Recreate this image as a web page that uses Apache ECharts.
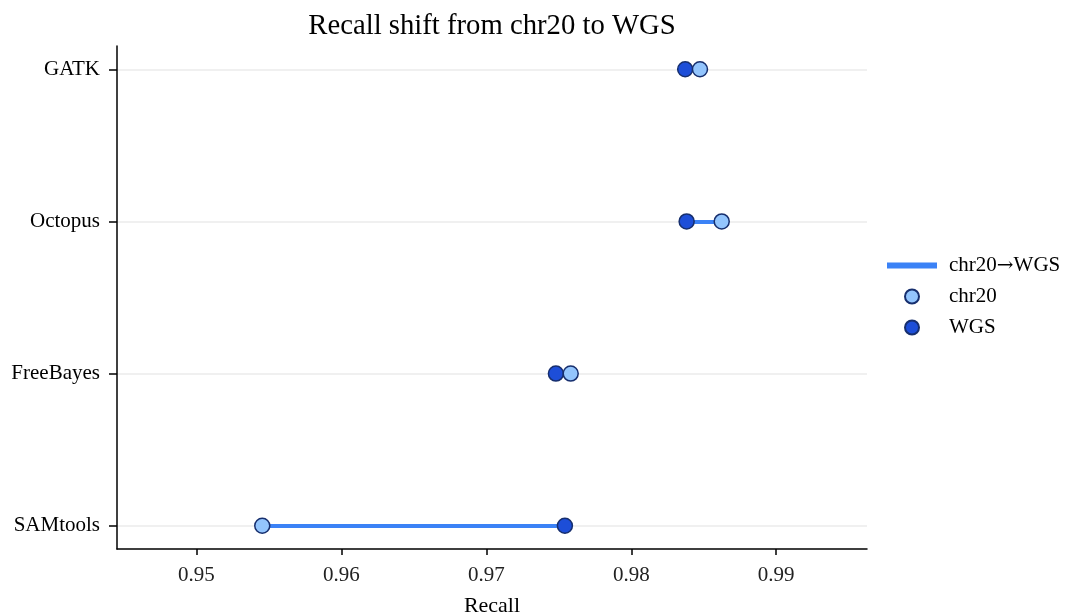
<!DOCTYPE html>
<html>
<head>
<meta charset="utf-8">
<script src="https://cdn.jsdelivr.net/npm/echarts@6/dist/echarts.min.js"></script>
<style>
  html, body { margin: 0; padding: 0; background: #fff; }
  #chart { width: 1068px; height: 613px; }
</style>
</head>
<body>
<div id="chart"></div>
<script>
// data
const callers = ['GATK', 'Octopus', 'FreeBayes', 'SAMtools']
const chr20 = [0.98474, 0.98624, 0.97582, 0.95454]
const wgs = [0.98372, 0.98382, 0.97480, 0.97542]
const xTicks = [0.95, 0.96, 0.97, 0.98, 0.99]

const font = 'Liberation Serif'
const myChart = echarts.init(document.getElementById('chart'))

const idx = callers.map((c, i) => i)

const option = {
  animation: false,
  textStyle: { fontFamily: font },
  title: {
    text: 'Recall shift from chr20 to WGS',
    left: 487,
    top: 7,
    textAlign: 'center',
    textStyle: { fontFamily: font, fontSize: 28.7, fontWeight: 'normal', color: '#000' }
  },
  legend: {
    orient: 'vertical',
    left: 882,
    top: 250,
    itemWidth: 48,
    itemHeight: 14,
    itemGap: 10,
    // the arrow looks tiny in Liberation Serif, take it from DejaVu
    formatter: name => name.split('→').map(s => '{a|' + s + '}').join('{b|→}'),
    textStyle: {
      fontFamily: font, fontSize: 21, color: '#000', padding: [0, 0, 0, 8],
      rich: {
        a: { fontFamily: font, fontSize: 21, color: '#000' },
        b: { fontFamily: 'DejaVu Serif', fontSize: 20, color: '#000' }
      }
    },
    data: [
      { name: 'chr20→WGS', icon: 'path://M0,0 L48,0 L48,4 L0,4 Z' },
      { name: 'chr20', icon: 'circle' },
      { name: 'WGS', icon: 'circle' }
    ]
  },
  grid: { left: 117, top: 46, width: 750, height: 503, outerBoundsMode: 'none', containLabel: false },
  xAxis: {
    type: 'value',
    min: 0.944517,
    max: 0.996264,
    name: 'Recall',
    nameLocation: 'middle',
    nameGap: 46,
    nameTextStyle: { fontFamily: font, fontSize: 22, color: '#000' },
    axisLine: { show: true, onZero: false, lineStyle: { color: '#000', width: 1.5 } },
    axisTick: { show: true, length: 6, lineStyle: { color: '#000', width: 1.5 }, customValues: xTicks },
    axisLabel: {
      customValues: xTicks,
      margin: 16,
      fontFamily: font, fontSize: 21, color: '#222',
      formatter: v => v.toFixed(2)
    },
    splitLine: { show: false }
  },
  yAxis: {
    type: 'value',
    inverse: true,
    min: -0.153,
    max: 3.153,
    axisLine: { show: true, onZero: false, lineStyle: { color: '#000', width: 1.5 } },
    axisTick: { show: true, length: 8, lineStyle: { color: '#000', width: 1.5 }, customValues: idx },
    axisLabel: {
      customValues: idx,
      margin: 17,
      fontFamily: font, fontSize: 21, color: '#000',
      formatter: v => callers[Math.round(v)]
    },
    splitLine: { show: true, lineStyle: { color: '#ebebeb', width: 1.5 } }
  },
  series: [
    {
      name: 'chr20→WGS',
      type: 'lines',
      coordinateSystem: 'cartesian2d',
      z: 2,
      itemStyle: { color: '#3b82f6' },
      lineStyle: { color: '#3b82f6', width: 4, opacity: 1 },
      data: callers.map((c, i) => ({ coords: [[chr20[i], i], [wgs[i], i]] }))
    },
    {
      name: 'WGS',
      type: 'scatter',
      z: 3,
      symbolSize: 15,
      itemStyle: { color: '#1d4ed8', borderColor: '#172f6e', borderWidth: 1.5, opacity: 1 },
      data: callers.map((c, i) => [wgs[i], i])
    },
    {
      name: 'chr20',
      type: 'scatter',
      z: 4,
      symbolSize: 15,
      itemStyle: { color: '#93c5fd', borderColor: '#172f6e', borderWidth: 1.5, opacity: 1 },
      data: callers.map((c, i) => [chr20[i], i])
    }
  ]
}

myChart.setOption(option)
window.onresize = () => { myChart.resize() }
</script>
</body>
</html>
